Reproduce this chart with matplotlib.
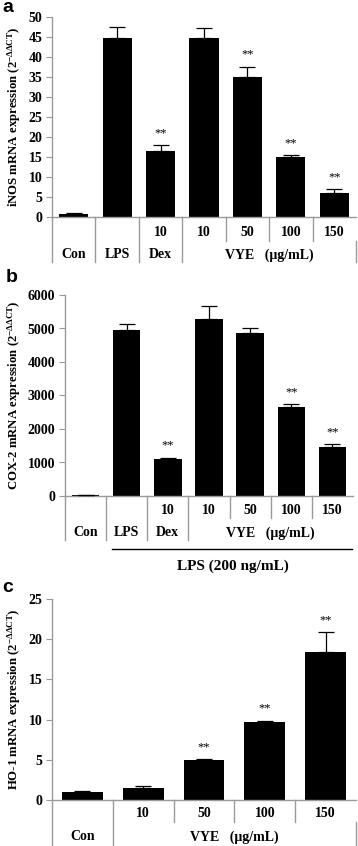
import matplotlib
matplotlib.use("Agg")
import matplotlib.pyplot as plt

plt.rcParams["font.family"] = ["Liberation Serif", "DejaVu Serif"]
plt.rcParams["mathtext.default"] = "regular"

# data
inos_vals = [0.8, 44.8, 16.4, 44.8, 35.0, 15.0, 6.1]
inos_err = [0.2, 2.7, 1.5, 2.5, 2.6, 0.5, 0.9]
inos_sig = [False, False, True, False, True, True, True]
inos_row1 = ["", "", "10", "10", "50", "100", "150"]

cox_vals = [20, 4950, 1100, 5280, 4880, 2670, 1470]
cox_err = [5, 170, 40, 400, 120, 70, 70]
cox_sig = [False, False, True, False, False, True, True]
cox_row1 = ["", "", "10", "10", "50", "100", "150"]

ho_vals = [0.96, 1.54, 4.98, 9.76, 18.36]
ho_err = [0.12, 0.2, 0.12, 0.12, 2.5]
ho_sig = [False, False, True, True, True]
ho_row1 = ["", "10", "50", "100", "150"]

W, H = 358, 846
fig = plt.figure(figsize=(W / 100, H / 100), dpi=100)

GRAY = "#9a9a9a"


def make_ax(left, right, top, bottom):
    return fig.add_axes([left / W, 1 - bottom / H, (right - left) / W, (bottom - top) / H])


def draw_bars(ax, vals, errs, sig, ymax, step, ylabel):
    x = list(range(len(vals)))
    ax.bar(x, vals, width=0.67, color="black", zorder=2)
    ax.errorbar(x, vals, yerr=[[0] * len(vals), errs], fmt="none", ecolor="black",
                elinewidth=0.9, capsize=5.5, capthick=0.9, zorder=3)
    for i, s in enumerate(sig):
        if s:
            ax.text(i, vals[i] + errs[i] + ymax * 0.03, "**", ha="center", va="bottom",
                    fontsize=9)
    ax.set_xlim(-0.5, len(vals) - 0.5)
    ax.set_ylim(0, ymax)
    ax.set_yticks(range(0, ymax + 1, step))
    ax.set_xticks([])
    for s in ["top", "right"]:
        ax.spines[s].set_visible(False)
    for s in ["left", "bottom"]:
        ax.spines[s].set_color(GRAY)
        ax.spines[s].set_linewidth(1)
    ax.tick_params(axis="y", length=4, color=GRAY, labelsize=10, pad=3)
    for t in ax.get_yticklabels():
        t.set_fontweight("bold")
    ax.set_ylabel(ylabel, fontsize=9.2, fontweight="bold")


def vline(ax, x, y0, y1, color=GRAY, lw=1):
    ax.plot([x, x], [y0, y1], color=color, lw=lw, transform=ax.get_xaxis_transform(),
            clip_on=False)


def tlabel(ax, x, y, s, size=10):
    ax.text(x, y, s, ha="center", va="center", fontsize=size, fontweight="bold",
            transform=ax.get_xaxis_transform())


# ---- panel a ----
ax1 = make_ax(52, 356, 17, 217)
draw_bars(ax1, inos_vals, inos_err, inos_sig, 50, 5,
          r"iNOS mRNA expression (2$^{-ΔΔCT}$)")
ax1.yaxis.set_label_coords(-0.095, 0.5)
r1, r2, mid, bot = -0.08, -0.19, -0.12, -0.225
for xv in [-0.5, 0.5, 1.5, 2.5]:
    vline(ax1, xv, 0, bot)
for xv in [3.5, 4.5, 5.5]:
    vline(ax1, xv, 0, mid)
vline(ax1, 6.5, mid, bot)
for i, s in enumerate(inos_row1):
    if s:
        tlabel(ax1, i, r1, s)
tlabel(ax1, 0, r2, "Con")
tlabel(ax1, 1, r2, "LPS")
tlabel(ax1, 2, r2, "Dex")
tlabel(ax1, 4.5, r2, "VYE   (μg/mL)")

# ---- panel b ----
ax2 = make_ax(65, 353, 295, 496)
draw_bars(ax2, cox_vals, cox_err, cox_sig, 6000, 1000,
          r"COX-2 mRNA expression (2$^{-ΔΔCT}$)")
ax2.yaxis.set_label_coords(-0.145, 0.5)
r1, r2, mid, bot = -0.07, -0.184, -0.11, -0.219
for xv in [-0.5, 0.5, 1.5, 2.5]:
    vline(ax2, xv, 0, bot)
for xv in [3.5, 4.5, 5.5]:
    vline(ax2, xv, 0, mid)
for i, s in enumerate(cox_row1):
    if s:
        tlabel(ax2, i, r1, s)
tlabel(ax2, 0, r2, "Con")
tlabel(ax2, 1, r2, "LPS")
tlabel(ax2, 2, r2, "Dex")
tlabel(ax2, 4.5, r2, "VYE   (μg/mL)")
ax2.plot([0.64, 6.48], [-0.264, -0.264], color="black", lw=1,
         transform=ax2.get_xaxis_transform(), clip_on=False)
tlabel(ax2, 3.59, -0.348, "LPS (200 ng/mL)", size=11)

# ---- panel c ----
ax3 = make_ax(52, 356, 599, 800)
draw_bars(ax3, ho_vals, ho_err, ho_sig, 25, 5,
          r"HO-1 mRNA expression (2$^{-ΔΔCT}$)")
ax3.yaxis.set_label_coords(-0.095, 0.5)
r1, r2, mid, bot = -0.065, -0.184, -0.11, -0.235
for xv in [-0.5, 0.5]:
    vline(ax3, xv, 0, bot)
for xv in [1.5, 2.5, 3.5]:
    vline(ax3, xv, 0, mid)
vline(ax3, 4.5, mid, bot)
for i, s in enumerate(ho_row1):
    if s:
        tlabel(ax3, i, r1, s)
tlabel(ax3, 0, r2, "Con")
tlabel(ax3, 2.5, r2, "VYE   (μg/mL)")

# panel letters
for lbl, px, py in [("a", 8, 8), ("b", 12, 277), ("c", 8, 588)]:
    fig.text(px / W, 1 - py / H, lbl, fontsize=14, fontweight="bold",
             family="Liberation Sans", ha="center", va="center")

fig.savefig("out.png", dpi=100)
